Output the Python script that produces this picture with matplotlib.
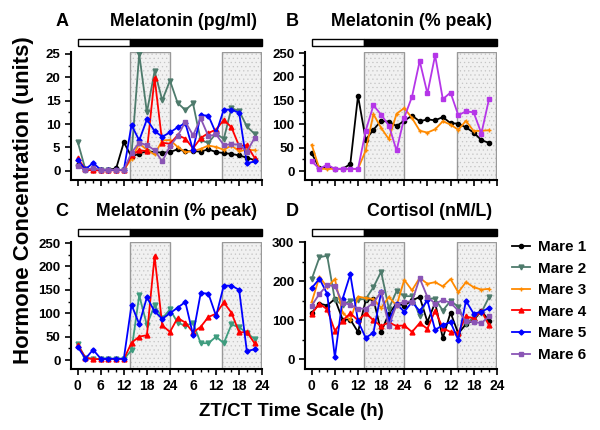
import numpy as np
import matplotlib
matplotlib.use("Agg")
import matplotlib.pyplot as plt
import matplotlib.transforms as mtransforms
from matplotlib.patches import Rectangle

plt.rcParams["font.family"] = ["Liberation Sans", "DejaVu Sans"]
plt.rcParams["font.weight"] = "bold"
plt.rcParams["hatch.linewidth"] = 0.4

# sampling times (h), two consecutive days
hours = [0, 2, 4, 6, 8, 10, 12, 14, 16, 18, 20, 22,
         24, 26, 28, 30, 32, 34, 36, 38, 40, 42, 44, 46]
tick_pos = [0, 6, 12, 18, 24, 30, 36, 42, 48]
tick_labels = ["0", "6", "12", "18", "24", "6", "12", "18", "24"]
lights_off = 13.6
dark_spans = [(13.6, 24.0), (37.6, 47.7)]

# A: melatonin (pg/ml)
a_m1 = [1.3, 0.2, 0.2, 0.2, 0.2, 0.5, 6.1, 3.0, 3.7, 4.2, 4.0, 3.9, 4.0, 4.6, 4.2, 4.2, 4.1, 4.6, 4.0, 3.8, 3.6, 3.3, 2.8, 2.3]
a_m2 = [6.2, 0.3, 0.2, 0.2, 0.2, 0.2, 0.2, 3.5, 25.0, 12.5, 21.3, 15.1, 19.3, 14.5, 13.0, 14.4, 6.5, 6.0, 8.0, 6.8, 13.4, 12.8, 9.5, 7.9]
a_m3 = [2.0, 0.2, 0.2, 0.2, 0.2, 0.2, 0.2, 2.6, 5.8, 4.5, 3.5, 6.5, 6.6, 5.1, 4.0, 4.2, 4.7, 5.4, 5.1, 4.5, 5.4, 4.2, 4.5, 4.4]
a_m4 = [2.7, 0.3, 0.1, 0.1, 0.1, 0.1, 0.1, 3.3, 4.4, 4.2, 19.9, 6.0, 5.8, 7.6, 6.9, 4.8, 7.0, 8.1, 8.8, 10.9, 9.3, 5.3, 5.5, 2.8]
a_m5 = [2.3, 0.3, 1.7, 0.2, 0.2, 0.2, 0.2, 9.8, 6.5, 11.0, 8.5, 7.3, 8.2, 9.3, 10.2, 4.4, 11.9, 11.8, 8.0, 13.1, 13.1, 12.4, 1.6, 2.0]
a_m6 = [1.0, 0.2, 0.6, 0.2, 0.2, 0.2, 0.2, 3.9, 6.0, 5.5, 4.4, 2.0, 5.3, 7.4, 10.5, 7.6, 11.2, 7.4, 7.8, 5.5, 5.7, 5.6, 4.1, 7.0]

# B: melatonin (% peak)
b_m1 = [38, 6, 10, 5, 5, 15, 160, 67, 88, 107, 105, 96, 107, 118, 106, 110, 108, 115, 102, 101, 93, 82, 66, 60]
b_m3 = [56, 5, 5, 5, 5, 5, 5, 44, 121, 92, 68, 122, 134, 113, 86, 82, 89, 106, 99, 88, 107, 85, 86, 87]
b_m6 = [21, 5, 14, 5, 5, 5, 5, 86, 140, 120, 97, 44, 114, 158, 234, 165, 246, 153, 167, 119, 127, 125, 80, 154]

# C: melatonin (% peak)
c_m2 = [34, 5, 2, 2, 2, 2, 2, 21, 138, 75, 117, 89, 108, 80, 73, 79, 36, 36, 50, 36, 76, 70, 58, 45]
c_m4 = [32, 5, 2, 2, 2, 2, 2, 37, 50, 53, 222, 74, 60, 90, 80, 59, 71, 92, 99, 123, 101, 59, 60, 36]
c_m5 = [28, 3, 22, 3, 3, 3, 3, 118, 77, 134, 104, 88, 100, 112, 124, 54, 143, 142, 94, 159, 159, 150, 19, 23]

# D: cortisol (nM/L)
d_m1 = [119, 143, 138, 155, 102, 102, 70, 151, 155, 70, 117, 143, 138, 151, 160, 96, 145, 54, 120, 66, 90, 100, 125, 98]
d_m2 = [206, 262, 266, 152, 140, 150, 153, 155, 185, 225, 130, 175, 162, 162, 110, 157, 155, 125, 150, 135, 90, 108, 120, 160]
d_m3 = [147, 212, 185, 206, 120, 100, 161, 157, 155, 132, 160, 138, 204, 177, 209, 194, 198, 187, 206, 172, 198, 185, 179, 181]
d_m4 = [117, 143, 128, 73, 99, 118, 100, 118, 100, 85, 95, 85, 87, 70, 93, 78, 125, 80, 70, 68, 110, 105, 125, 87]
d_m5 = [183, 207, 168, 5, 155, 218, 98, 55, 68, 172, 100, 142, 122, 147, 124, 151, 75, 88, 95, 50, 150, 117, 122, 132]
d_m6 = [138, 168, 190, 188, 145, 140, 130, 130, 145, 173, 85, 140, 148, 148, 208, 160, 143, 152, 145, 125, 98, 95, 93, 110]

mare_names = ["Mare 1", "Mare 2", "Mare 3", "Mare 4", "Mare 5", "Mare 6"]
colors = ["#000000", "#4e7b6c", "#ff8a00", "#ff0000", "#0000ff", "#8a55b5"]
markers = ["o", "v", "+", "^", "D", "s"]
msizes = [3.0, 3.5, 3.5, 3.5, 2.6, 3.3]

fig = plt.figure(figsize=(6, 4.3), dpi=100)

panels = [
    # letter, title, rect, ylim, yticks, series [(mare index, data, colour override)], x labels
    ("A", "Melatonin (pg/ml)", [0.118, 0.581, 0.319, 0.298], (-2, 25.4), [0, 5, 10, 15, 20, 25],
     [(1, a_m2, None), (0, a_m1, None), (2, a_m3, None), (3, a_m4, None), (4, a_m5, None), (5, a_m6, None)], False),
    ("B", "Melatonin (% peak)", [0.508, 0.581, 0.320, 0.298], (-19, 253), [0, 50, 100, 150, 200, 250],
     [(0, b_m1, None), (2, b_m3, None), (5, b_m6, "#b536e8")], False),
    ("C", "Melatonin (% peak)", [0.118, 0.142, 0.319, 0.295], (-19, 252), [0, 50, 100, 150, 200, 250],
     [(1, c_m2, "#3e9c7e"), (3, c_m4, None), (4, c_m5, None)], True),
    ("D", "Cortisol (nM/L)", [0.508, 0.142, 0.320, 0.295], (-25, 301), [0, 100, 200, 300],
     [(0, d_m1, None), (1, d_m2, None), (2, d_m3, None), (3, d_m4, None), (4, d_m5, None), (5, d_m6, None)], True),
]

handles = {}
for letter, title, rect, ylim, yticks, series, show_x in panels:
    ax = fig.add_axes(rect)
    trans = mtransforms.blended_transform_factory(ax.transData, ax.transAxes)

    # shaded subjective-night boxes
    for x0, x1 in dark_spans:
        ax.add_patch(Rectangle((x0, 0), x1 - x0, 1, transform=trans, facecolor="#f1f1f1",
                               edgecolor="#c4c4c4", hatch="....", lw=0, zorder=0))
        ax.add_patch(Rectangle((x0, 0), x1 - x0, 1, transform=trans, fill=False,
                               edgecolor="#999999", lw=1.0, zorder=0.5))

    # light/dark bar
    ax.add_patch(Rectangle((0, 1.045), lights_off, 0.055, transform=trans, facecolor="white",
                           edgecolor="black", lw=1.0, clip_on=False))
    ax.add_patch(Rectangle((lights_off, 1.045), 48 - lights_off, 0.055, transform=trans,
                           facecolor="black", edgecolor="black", lw=1.0, clip_on=False))

    for idx, data, col in series:
        c = col if col else colors[idx]
        line, = ax.plot(hours, data, color=c, marker=markers[idx], ms=msizes[idx],
                        mew=1.0, lw=1.3, label=mare_names[idx], zorder=2)
        if letter == "D":
            handles[idx] = line

    ax.set_xlim(-1.8, 48)
    ax.set_ylim(*ylim)
    ax.set_yticks(yticks)
    ax.set_yticks(np.array(yticks[:-1]) + (yticks[1] - yticks[0]) / 2, minor=True)
    ax.set_xticks(tick_pos)
    ax.set_xticks(hours[1::3] + hours[2::3], minor=True)
    if show_x:
        ax.set_xticklabels(tick_labels, fontsize=10, fontweight="bold")
    else:
        ax.set_xticklabels([])
    ax.tick_params(axis="y", labelsize=9.5, width=1.2, length=4)
    ax.tick_params(axis="x", width=1.2, length=4)
    ax.tick_params(which="minor", width=1.0, length=2.5)
    for lab in ax.get_yticklabels():
        lab.set_fontweight("bold")
    for s in ["top", "right"]:
        ax.spines[s].set_visible(False)
    for s in ["left", "bottom"]:
        ax.spines[s].set_linewidth(1.5)

    fx = 0.103 if rect[0] < 0.3 else 0.487
    fy = rect[1] + rect[3] + 0.07
    fig.text(fx, fy, letter, fontsize=13, fontweight="bold", ha="center", va="center")
    fig.text(rect[0] + rect[2] - 0.008, fy, title, fontsize=12.8, fontweight="bold",
             ha="right", va="center")

fig.text(0.04, 0.535, "Hormone Concentration (units)", rotation=90, fontsize=16,
         fontweight="bold", ha="center", va="center")
fig.text(0.485, 0.042, "ZT/CT Time Scale (h)", fontsize=13.5, fontweight="bold",
         ha="center", va="center")

fig.legend([handles[i] for i in range(6)], mare_names, loc="center left",
           bbox_to_anchor=(0.83, 0.30), frameon=False,
           handlelength=1.2, labelspacing=0.5, handletextpad=0.5,
           prop={"weight": "bold", "size": 11})

fig.savefig("out.png", dpi=100)
